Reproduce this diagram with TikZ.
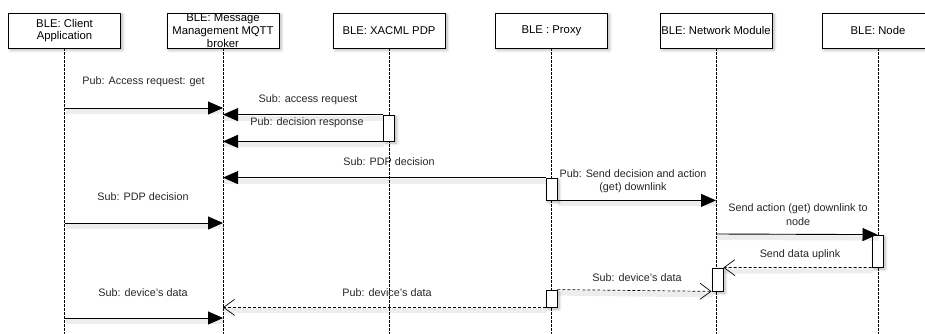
\documentclass[tikz,border=0pt]{standalone}
\usepackage{fontspec}
\setmainfont{Liberation Sans}
\usetikzlibrary{arrows.meta,shadows.blur,calc}

\begin{document}
\begin{tikzpicture}[x=1pt,y=-1pt,
  softshadow/.style={blur shadow={shadow xshift=2pt,shadow yshift=-2pt,shadow blur steps=6,shadow blur radius=3pt,shadow opacity=30}},
  lineshadow/.style={preaction={draw=black, draw opacity=0.07, line width=5pt, solid, arrows=-,
    transform canvas={shift={(1pt,-3.5pt)}}}},
  lifebox/.style={draw, fill=white, line width=0.8pt, minimum width=112pt, minimum height=35pt,
    inner sep=0pt, align=center, font=\fontsize{11.3}{12.8}\selectfont, softshadow},
  lifeline/.style={line width=0.6pt, dash pattern=on 2.5pt off 1.5pt},
  actbox/.style={draw, fill=white, line width=0.8pt, minimum width=11pt, inner sep=0pt, softshadow},
  call/.style={line width=0.9pt, lineshadow, -{Triangle[length=15pt,width=13pt]}},
  reply/.style={line width=0.7pt, lineshadow, dash pattern=on 3pt off 2pt,
    -{Straight Barb[length=11pt,width=16pt,line width=0.7pt]}},
  lbl/.style={font=\fontsize{10.8}{13.5}\selectfont, align=center, inner sep=0pt, text=black!85}
]
\useasboundingbox (0,0) rectangle (925,334);

% participants
\node[lifebox] (ca)  at (64.5,30.5) {BLE: Client\\Application};
\node[lifebox] (mb)  at (223,30.5)  {BLE: Message\\Management MQTT\\broker};
\node[lifebox] (pdp) at (389,30.5)  {BLE: XACML PDP};
\node[lifebox] (px)  at (551.5,30.5){BLE : Proxy};
\node[lifebox] (nm)  at (716,30.5)  {BLE: Network Module};
\node[lifebox] (nd)  at (878,30.5)  {BLE: Node};

% lifelines
\foreach \p in {ca,mb,pdp,px,nm,nd}
  \draw[lifeline] (\p.south) -- (\p.south |- 0,334);

% activation bars
\node[actbox, minimum height=26pt] (apdp) at (389,128) {};
\node[actbox, minimum height=22pt] (apx1) at (551.5,189) {};
\node[actbox, minimum height=32pt] (and)  at (877.5,251) {};
\node[actbox, minimum height=23pt] (anm)  at (717.5,279.5) {};
\node[actbox, minimum height=17pt] (apx2) at (551.5,298.5) {};

% messages
\draw[call]  (ca.south |- 0,108) -- (mb.south |- 0,108);
\draw[call]  (apdp.north west) -- (mb.south |- apdp.north west);
\draw[call]  (apdp.south west) -- (mb.south |- apdp.south west);
\draw[call]  (apx1.north west) -- (mb.south |- apx1.north west);
\draw[call]  (ca.south |- 0,223) -- (mb.south |- 0,223);
\draw[call]  (apx1.south east) -- (nm.south |- apx1.south east);
\draw[call]  (nm.south |- 0,234) -- (and.north);
\draw[reply] (and.south west) -- (anm.north east);
\draw[reply] (apx2.north east) -- (anm.south west);
\draw[reply] (apx2.south west) -- (mb.south |- apx2.south west);
\draw[call]  (ca.south |- 0,318) -- (mb.south |- 0,318);

% message labels
\node[lbl] (t1)  at (143.5,82)  {Pub: Access request: get};
\node[lbl] (t2)  at (308,100)   {Sub: access request};
\node[lbl] (t3)  at (307,123)   {Pub: decision response};
\node[lbl] (t4)  at (389,162)   {Sub: PDP decision};
\node[lbl] (t5)  at (143,197)   {Sub: PDP decision};
\node[lbl] (t6)  at (633,181)   {Pub: Send decision and action\\(get) downlink};
\node[lbl] (t7)  at (798,214.5) {Send action (get) downlink to\\node};
\node[lbl] (t8)  at (800,255)   {Send data uplink};
\node[lbl] (t9)  at (637,278)   {Sub: device's data};
\node[lbl] (t10) at (387,293)   {Pub: device's data};
\node[lbl] (t11) at (143,293)   {Sub: device's data};
\end{tikzpicture}
\end{document}
